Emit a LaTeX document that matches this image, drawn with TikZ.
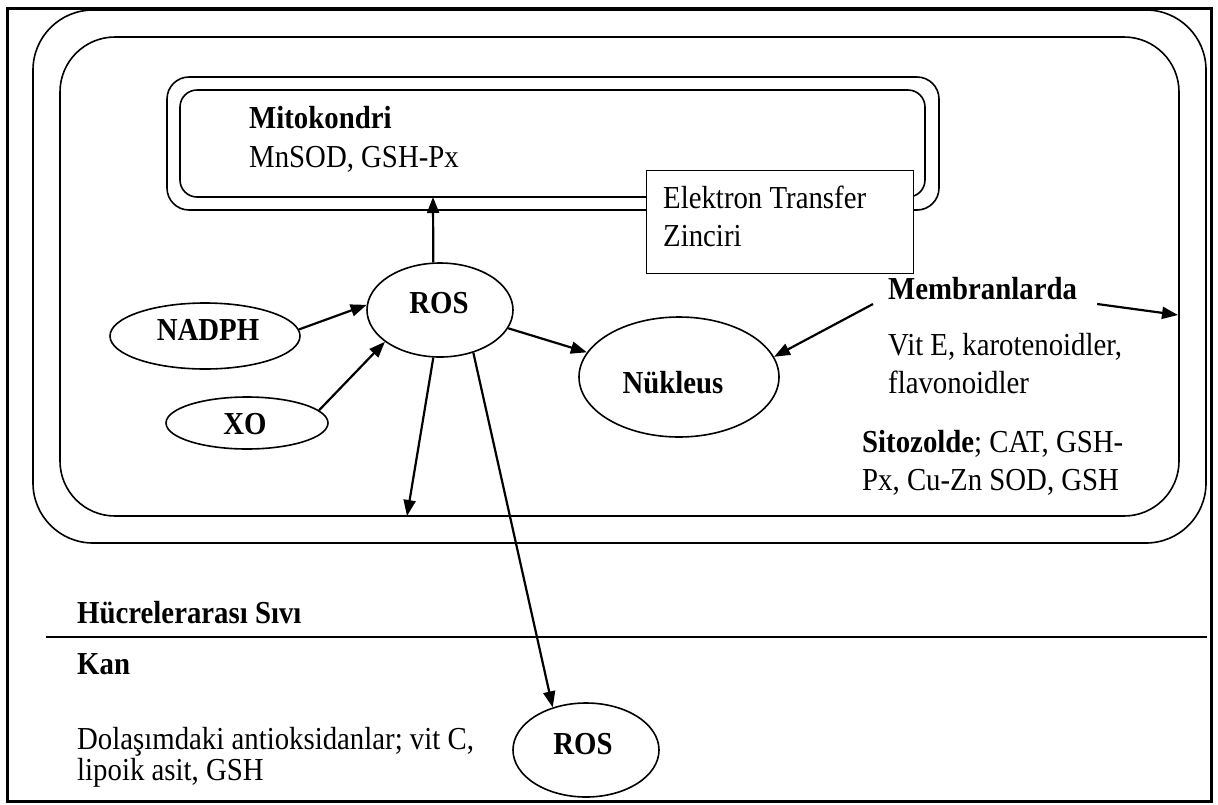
\documentclass[tikz,border=0pt]{standalone}
\usepackage{fontspec}
\setmainfont{Liberation Serif}[FakeStretch=0.9]
\usetikzlibrary{arrows.meta,shapes.geometric}
\begin{document}
\begin{tikzpicture}[x=1pt,y=-1pt,
  txt/.style={anchor=base west, inner sep=0pt, font=\fontsize{32}{36}\selectfont},
  btxt/.style={anchor=base west, inner sep=0pt, font=\fontsize{32}{36}\selectfont\bfseries},
  clbl/.style={anchor=base, inner sep=0pt, font=\fontsize{32}{36}\selectfont\bfseries},
  ell/.style={draw, ellipse, line width=1.6pt, inner sep=0pt},
  memb/.style={line width=1.6pt},
  arr/.style={line width=2.2pt, -{Triangle[length=16pt,width=12pt]}}]
\useasboundingbox (0,0) rectangle (1218,804);
% frame
\draw[line width=3pt] (7,8) rectangle (1211,801);
% cell membranes
\draw[memb, rounded corners=60pt] (33,10) rectangle (1206,543);
\draw[memb, rounded corners=55pt] (60,37) rectangle (1179,516);
% mitochondrion
\draw[memb, rounded corners=22pt] (167,77) rectangle (939,210);
\draw[memb, rounded corners=17pt] (180,90) rectangle (925,197);
\node[draw, fill=white, line width=1.2pt, minimum width=267pt, minimum height=103pt, inner sep=0pt, anchor=north west] (etz) at (646,170) {};
\node[btxt] (mito) at (249,128) {Mitokondri};
\node[txt] (mito2) at (249,167) {MnSOD, GSH-Px};
\node[txt] (etz1) at (663,208) {Elektron Transfer};
\node[txt] (etz2) at (663,246) {Zinciri};
% ellipses
\node[ell, minimum width=146pt, minimum height=94pt] (ros) at (440,310) {};
\node[clbl] (rost) at (439,313) {ROS};
\node[ell, minimum width=190pt, minimum height=66pt] (nadph) at (205,336) {};
\node[clbl] (nadpht) at (208,340) {NADPH};
\node[ell, minimum width=162pt, minimum height=52pt] (xo) at (247,423) {};
\node[clbl] (xot) at (245,434) {XO};
\node[ell, minimum width=200pt, minimum height=120pt] (nuk) at (679,377) {};
\node[clbl] (nukt) at (673,393) {Nükleus};
\node[ell, minimum width=146pt, minimum height=94pt] (bros) at (586,750) {};
\node[clbl] (brost) at (583,754) {ROS};
% right side texts
\node[btxt] (membt) at (888,299) {Membranlarda};
\node[txt] (vite) at (888,355) {Vit E, karotenoidler,};
\node[txt] (flav) at (888,393) {flavonoidler};
\node[txt] (sito) at (862,452) {\textbf{Sitozolde}; CAT, GSH-};
\node[txt] (sito2) at (862,490) {Px, Cu-Zn SOD, GSH};
% lower texts
\node[btxt] (hsv) at (77,623) {Hücrelerarası Sıvı};
\draw[memb] (46,637) coordinate (sepL) -- (1207,637) coordinate (sepR);
\node[btxt] (kan) at (77,674) {Kan};
\node[txt] (dol) at (77,749) {Dolaşımdaki antioksidanlar; vit C,};
\node[txt] (lip) at (77,780) {lipoik asit, GSH};
% connector ends
\coordinate (mitotip) at (433,197);
\coordinate (celltip) at (407,516);
\coordinate (membtip) at (1178,315);
% arrows
\draw[arr] (nadph.4) -- (ros.176);
\draw[arr] (xo.10) -- (ros.210);
\draw[arr] (ros.98) -- (mitotip);
\draw[arr] (ros.-15) -- (nuk.165);
\draw[arr] ([xshift=-15pt,yshift=-5pt]membt.base west) -- (nuk.12);
\draw[arr] ([xshift=20pt,yshift=-5pt]membt.base east) -- (membtip);
\draw[arr] (ros.-98) -- (celltip);
\draw[arr] (ros.-52) -- (bros.128);
\end{tikzpicture}
\end{document}
